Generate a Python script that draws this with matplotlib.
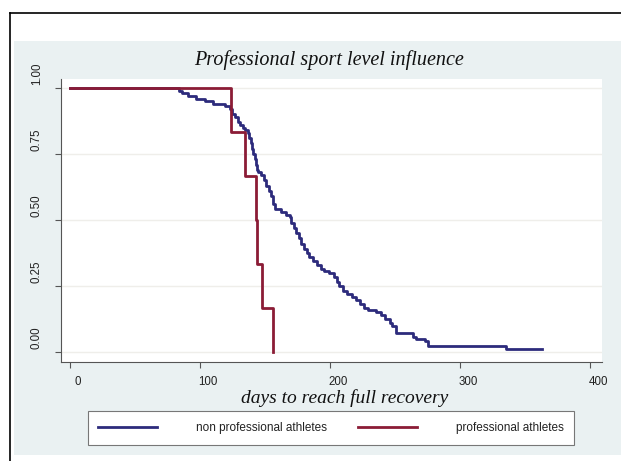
import matplotlib
matplotlib.use("Agg")
import matplotlib.pyplot as plt
import matplotlib.transforms as mtransforms
from matplotlib.lines import Line2D
from matplotlib.patches import Rectangle

# Kaplan-Meier style step data
pro_days = [0, 124, 135, 143, 144, 148, 156]
pro_surv = [1.0, 0.833, 0.667, 0.5, 0.333, 0.167, 0.0]

nonpro_days = [0, 84, 86, 91, 97, 104, 110, 119, 123, 125, 127, 129, 131, 133,
               135, 137, 138, 139, 140, 141, 142, 143, 144, 145, 147, 149, 151,
               153, 155, 156, 158, 162, 166, 169, 170, 172, 174, 176, 178, 180,
               182, 184, 187, 190, 193, 195, 199, 203, 205, 207, 210, 213, 217,
               220, 223, 226, 229, 235, 239, 242, 246, 248, 251, 264, 266, 273,
               275, 335, 363]
nonpro_surv = [1.0, 0.99, 0.98, 0.97, 0.96, 0.95, 0.94, 0.93, 0.92, 0.90, 0.89,
               0.87, 0.86, 0.85, 0.84, 0.83, 0.81, 0.79, 0.77, 0.75, 0.73, 0.71,
               0.69, 0.68, 0.67, 0.65, 0.63, 0.61, 0.59, 0.56, 0.54, 0.53, 0.52,
               0.51, 0.49, 0.47, 0.45, 0.43, 0.41, 0.39, 0.375, 0.36, 0.345,
               0.33, 0.315, 0.305, 0.298, 0.285, 0.265, 0.25, 0.23, 0.22, 0.21,
               0.195, 0.18, 0.165, 0.158, 0.15, 0.14, 0.125, 0.11, 0.10, 0.072,
               0.055, 0.048, 0.04, 0.024, 0.012, 0.012]

x_ticks = [0, 100, 200, 300, 400]
y_ticks = [0.0, 0.25, 0.5, 0.75, 1.0]
y_ticklabels = ["0.00", "0.25", "0.50", "0.75", "1.00"]

NAVY = "#2d2b7c"
MAROON = "#8b1c36"
W, H = 621, 461

fig = plt.figure(figsize=(W / 100, H / 100), dpi=100, facecolor="white")

# graph region (light blue-grey) and outer frame
fig.patches.append(Rectangle((14 / W, 1 - 455 / H), 1 - 14 / W, (455 - 41) / H,
                             transform=fig.transFigure, facecolor="#eaf1f2",
                             edgecolor="none", zorder=-5))
fig.lines.append(Line2D([10 / W, 10 / W], [0, 1 - 13 / H], transform=fig.transFigure,
                        color="black", lw=1.2, zorder=-4))
fig.lines.append(Line2D([10 / W, 1], [1 - 13 / H, 1 - 13 / H], transform=fig.transFigure,
                        color="black", lw=1.2, zorder=-4))

ax = fig.add_axes([61 / W, 1 - 362 / H, (602 - 61) / W, (362 - 79) / H])
ax.set_facecolor("white")

ax.step(nonpro_days, nonpro_surv, where="post", color=NAVY, lw=2.0,
        label="non professional athletes", zorder=3)
ax.step(pro_days, pro_surv, where="post", color=MAROON, lw=2.0,
        label="professional athletes", zorder=4)

ax.set_xlim(-6.9, 409.2)
ax.set_ylim(-0.038, 1.034)

for y in y_ticks:
    ax.axhline(y, color="#efeeea", lw=1.0, zorder=1)

ax.set_xticks(x_ticks)
ax.set_yticks(y_ticks)
ax.set_yticklabels(y_ticklabels, rotation=90, va="center")
ax.tick_params(axis="both", direction="out", length=4, width=0.8, color="#555555",
               labelsize=8.3, labelcolor="#222222", labelfontfamily="Liberation Sans")
ax.tick_params(axis="y", pad=9)
ax.tick_params(axis="x", pad=6)

for side in ("top", "right"):
    ax.spines[side].set_visible(False)
for side in ("left", "bottom"):
    ax.spines[side].set_color("#555555")
    ax.spines[side].set_linewidth(0.8)

# labels in the original sit slightly off their ticks
shift_x = mtransforms.ScaledTranslation(8 / 100, 0, fig.dpi_scale_trans)
for lab in ax.get_xticklabels():
    lab.set_transform(lab.get_transform() + shift_x)
shift_y = mtransforms.ScaledTranslation(0, 14 / 100, fig.dpi_scale_trans)
for lab in ax.get_yticklabels():
    lab.set_transform(lab.get_transform() + shift_y)

fig.text(329 / W, 1 - 60 / H, "Professional sport level influence", ha="center",
         va="center", fontsize=14.5, fontstyle="italic", family="Liberation Serif",
         color="#111111")
fig.text(345 / W, 1 - 398 / H, "days to reach full recovery", ha="center",
         va="center", fontsize=14, fontstyle="italic", family="Liberation Serif",
         color="#111111")

leg = fig.legend(handles=ax.get_lines()[:2], loc="center",
                 bbox_to_anchor=(331 / W, 1 - 428 / H), ncol=2, frameon=True,
                 fancybox=False, edgecolor="#777777", framealpha=1,
                 prop={"family": "Liberation Sans", "size": 8.5},
                 handlelength=5.0, handletextpad=3.3, columnspacing=2.6,
                 borderpad=0.9, borderaxespad=0)
leg.get_frame().set_linewidth(0.8)
for t in leg.get_texts():
    t.set_color("#222222")

fig.savefig("out.png", dpi=100, facecolor="white")
